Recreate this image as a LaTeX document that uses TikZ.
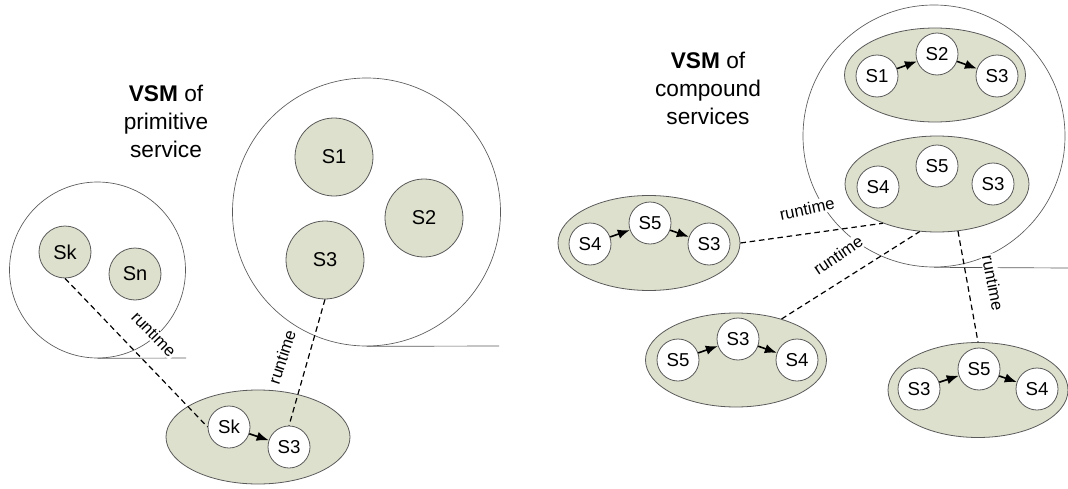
\documentclass[tikz,border=0pt]{standalone}
\usepackage{fontspec}
\setmainfont{Liberation Sans}
\usetikzlibrary{shapes.geometric,arrows.meta}
\definecolor{sfill}{RGB}{221,224,205}
\definecolor{edgec}{RGB}{90,90,90}
\begin{document}
\begin{tikzpicture}[x=0.75pt,y=-0.75pt,
 big/.style={circle,draw=edgec,line width=0.5pt,inner sep=0},
 gsvc/.style={circle,draw=edgec,fill=sfill,line width=0.6pt,inner sep=0,font=\fontsize{15}{17}\selectfont},
 wsvc/.style={circle,draw=edgec,fill=white,line width=0.6pt,inner sep=0,minimum size=31.5pt,font=\fontsize{14}{16}\selectfont},
 comp/.style={ellipse,draw=edgec,fill=sfill,line width=0.6pt,inner sep=0},
 flow/.style={-{Latex[length=9pt,width=7pt]},line width=1.2pt},
 rt/.style={dash pattern=on 4.2pt off 2.8pt,line width=0.9pt},
 rtl/.style={fill=white,inner sep=1pt,font=\fontsize{12.5}{14}\selectfont},
 title/.style={align=center,font=\fontsize{17}{21}\selectfont},
 base/.style={draw=edgec,line width=0.5pt}]

\useasboundingbox (0,0) rectangle (1068,489);

% ---------- left part: primitive services ----------
\node[big,minimum size=132pt] (pa) at (97.5,270) {};
\node[big,minimum size=201pt] (pb) at (366.5,212) {};
\coordinate (pae) at (186,358);
\coordinate (pbe) at (499,346);
\draw[base] (pa.south) -- (pae);
\draw[base] (pb.south) -- (pbe);

\node[title] (t1) at (166,121) {\textbf{VSM} of\\primitive\\service};

\node[gsvc,minimum size=39pt] (skg) at (65,252) {Sk};
\node[gsvc,minimum size=39pt] (sng) at (135,274) {Sn};
\node[gsvc,minimum size=58.5pt] (s1g) at (334,157) {S1};
\node[gsvc,minimum size=58.5pt] (s2g) at (424,218) {S2};
\node[gsvc,minimum size=58.5pt] (s3g) at (325,260) {S3};

\node[comp,minimum width=138pt,minimum height=70.5pt] (pc) at (258,437) {};
\node[wsvc] (skw) at (229,427) {Sk};
\node[wsvc] (s3w) at (289,447) {S3};

\node[rtl,rotate=-46] (l1) at (154,334) {runtime};
\node[rtl,rotate=72] (l2) at (282,357) {runtime};

\draw[rt] (skg.south) -- (skw.west);
\draw[rt] (s3g.south) -- (s3w.north);
\draw[flow] (skw) -- (s3w);

% ---------- right part: compound services ----------
\node[big,minimum size=196.5pt] (cb) at (934,136) {};
\coordinate (cbe) at (1068,268);
\draw[base] (cb.south) -- (cbe);

\node[title] (t2) at (708,88) {\textbf{VSM} of\\compound\\services};

% top composition
\node[comp,minimum width=135.75pt,minimum height=70.5pt] (ca) at (935,75) {};
\node[wsvc] (a1) at (877,76) {S1};
\node[wsvc] (a2) at (937,54) {S2};
\node[wsvc] (a3) at (997,76) {S3};
\draw[flow] (a1) -- (a2);
\draw[flow] (a2) -- (a3);

% middle (unordered) composition
\node[comp,minimum width=138pt,minimum height=72pt] (cm) at (937,184) {};
\node[wsvc] (m4) at (878,187) {S4};
\node[wsvc] (m5) at (937,166) {S5};
\node[wsvc] (m3) at (993,184) {S3};

% left composition
\node[comp,minimum width=136.5pt,minimum height=71.25pt] (cl) at (649,243) {};
\node[wsvc] (b4) at (590,244) {S4};
\node[wsvc] (b5) at (650,223) {S5};
\node[wsvc] (b3) at (709,244) {S3};
\draw[flow] (b4) -- (b5);
\draw[flow] (b5) -- (b3);

% bottom-left composition
\node[comp,minimum width=135.75pt,minimum height=70.5pt] (cd) at (736,360) {};
\node[wsvc] (d5) at (678,360) {S5};
\node[wsvc] (d3) at (738,339) {S3};
\node[wsvc] (d4) at (797,360) {S4};
\draw[flow] (d5) -- (d3);
\draw[flow] (d3) -- (d4);

% bottom-right composition
\node[comp,minimum width=135pt,minimum height=71.25pt] (ce) at (978,390) {};
\node[wsvc] (e3) at (919,389) {S3};
\node[wsvc] (e5) at (979,369) {S5};
\node[wsvc] (e4) at (1037,389) {S4};
\draw[flow] (e3) -- (e5);
\draw[flow] (e5) -- (e4);

\node[rtl,rotate=12] (l3) at (807,209) {runtime};
\node[rtl,rotate=34] (l4) at (838,255) {runtime};
\node[rtl,rotate=-79] (l5) at (993,283) {runtime};

\draw[rt] (cl.east) -- (cm.216);
\draw[rt] (cd.42) -- (cm.250);
\draw[rt] (cm.294) -- (ce.north);
\end{tikzpicture}
\end{document}
